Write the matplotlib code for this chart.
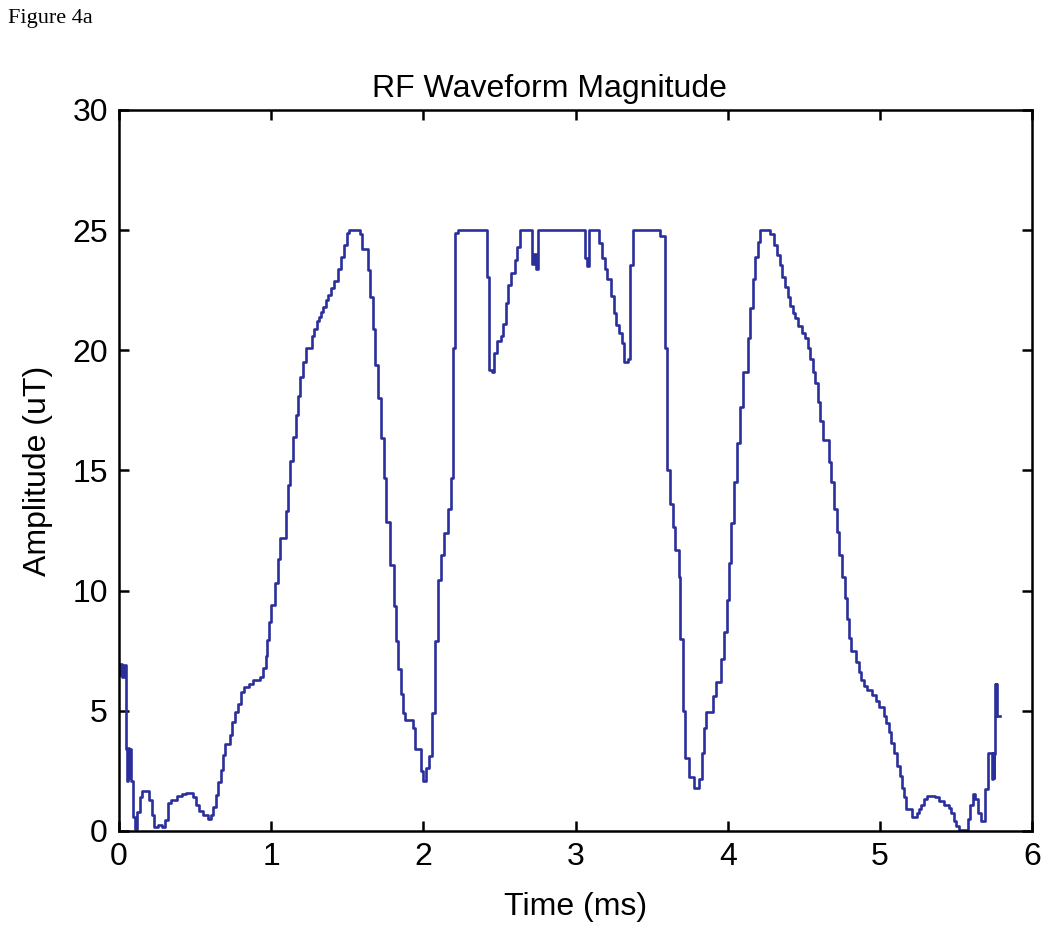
import numpy as np
import matplotlib
matplotlib.use("Agg")
import matplotlib.pyplot as plt

# step waveform: time (ms) where each level starts, level (uT)
time_ms = [
    0.000, 0.010, 0.020, 0.030, 0.046, 0.052, 0.058, 0.064, 0.070, 0.078,
    0.092, 0.105, 0.118, 0.138, 0.151, 0.197, 0.217, 0.230, 0.257, 0.283,
    0.303, 0.322, 0.342, 0.382, 0.414, 0.441, 0.487, 0.507, 0.526, 0.553,
    0.586, 0.605, 0.618, 0.638, 0.651, 0.671, 0.684, 0.697, 0.730, 0.743,
    0.763, 0.783, 0.803, 0.822, 0.855, 0.882, 0.928, 0.947, 0.967, 0.974,
    0.987, 1.000, 1.026, 1.046, 1.059, 1.099, 1.112, 1.125, 1.145, 1.164,
    1.178, 1.191, 1.211, 1.230, 1.270, 1.283, 1.303, 1.316, 1.329, 1.342,
    1.362, 1.375, 1.395, 1.414, 1.441, 1.461, 1.480, 1.500, 1.513, 1.586,
    1.599, 1.638, 1.651, 1.671, 1.684, 1.704, 1.724, 1.743, 1.757, 1.783,
    1.809, 1.822, 1.836, 1.855, 1.868, 1.882, 1.934, 1.947, 1.987, 2.000,
    2.020, 2.039, 2.059, 2.079, 2.099, 2.118, 2.138, 2.164, 2.184, 2.197,
    2.211, 2.230, 2.421, 2.434, 2.454, 2.467, 2.487, 2.513, 2.526, 2.546,
    2.559, 2.579, 2.599, 2.618, 2.632, 2.717, 2.730, 2.740, 2.750, 3.059,
    3.072, 3.086, 3.151, 3.171, 3.191, 3.204, 3.230, 3.250, 3.263, 3.283,
    3.303, 3.316, 3.342, 3.355, 3.375, 3.553, 3.586, 3.599, 3.618, 3.638,
    3.651, 3.678, 3.688, 3.704, 3.717, 3.743, 3.776, 3.809, 3.829, 3.842,
    3.855, 3.901, 3.921, 3.954, 3.974, 3.993, 4.007, 4.020, 4.039, 4.059,
    4.079, 4.099, 4.132, 4.145, 4.164, 4.178, 4.197, 4.211, 4.276, 4.303,
    4.322, 4.342, 4.355, 4.375, 4.395, 4.408, 4.428, 4.441, 4.461, 4.487,
    4.507, 4.526, 4.539, 4.559, 4.572, 4.592, 4.605, 4.625, 4.664, 4.678,
    4.697, 4.717, 4.730, 4.750, 4.770, 4.783, 4.796, 4.809, 4.842, 4.862,
    4.875, 4.895, 4.914, 4.947, 4.974, 4.993, 5.026, 5.039, 5.059, 5.072,
    5.092, 5.112, 5.132, 5.145, 5.158, 5.171, 5.211, 5.243, 5.257, 5.270,
    5.289, 5.309, 5.362, 5.388, 5.421, 5.454, 5.467, 5.487, 5.500, 5.520,
    5.579, 5.592, 5.612, 5.625, 5.645, 5.664, 5.691, 5.711, 5.737, 5.742,
    5.747, 5.752, 5.757, 5.761, 5.765, 5.768, 5.790,
]
amplitude_uT = [
    6.5, 6.95, 6.4, 6.9, 3.4, 2.1, 3.45, 2.2, 3.4, 2.1,
    0.6, 0.1, 0.8, 1.4, 1.65, 1.3, 0.65, 0.15, 0.25, 0.15,
    0.45, 1.15, 1.3, 1.45, 1.55, 1.6, 1.4, 1.1, 0.85, 0.65,
    0.5, 0.65, 1.0, 1.5, 2.05, 2.55, 3.15, 3.6, 4.0, 4.55,
    4.95, 5.3, 5.8, 6.0, 6.1, 6.3, 6.4, 6.8, 7.3, 7.95,
    8.7, 9.4, 10.3, 11.3, 12.2, 13.3, 14.4, 15.4, 16.4, 17.3,
    18.1, 18.9, 19.5, 20.1, 20.6, 20.9, 21.2, 21.4, 21.6, 21.8,
    22.1, 22.3, 22.6, 22.9, 23.4, 23.9, 24.4, 24.9, 25.0, 24.85,
    24.2, 23.35, 22.2, 20.9, 19.4, 18.0, 16.35, 14.7, 12.85, 11.05,
    9.35, 7.9, 6.75, 5.7, 4.9, 4.6, 4.3, 3.4, 2.5, 2.1,
    2.6, 3.1, 4.9, 7.9, 10.45, 11.5, 12.4, 13.4, 14.7, 20.1,
    24.9, 25.0, 23.05, 19.2, 19.1, 19.9, 20.4, 20.6, 21.1, 21.95,
    22.7, 23.2, 23.75, 24.3, 25.0, 23.6, 24.0, 23.4, 25.0, 23.85,
    23.5, 25.0, 24.45, 23.85, 23.4, 22.95, 22.25, 21.55, 21.05, 20.7,
    20.3, 19.5, 19.65, 23.55, 25.0, 24.75, 20.1, 15.0, 13.6, 12.65,
    11.7, 10.55, 8.0, 5.0, 3.05, 2.25, 1.8, 2.15, 3.25, 4.3,
    4.95, 5.6, 6.2, 7.15, 8.3, 9.6, 11.15, 12.8, 14.5, 16.15,
    17.65, 19.1, 20.5, 21.75, 22.95, 23.9, 24.5, 25.0, 24.85, 24.4,
    23.95, 23.55, 23.05, 22.65, 22.2, 21.85, 21.55, 21.35, 21.0, 20.7,
    20.5, 20.1, 19.65, 19.1, 18.65, 17.85, 17.05, 16.25, 15.35, 14.5,
    13.4, 12.45, 11.5, 10.55, 9.7, 8.8, 8.05, 7.5, 7.05, 6.6,
    6.3, 6.05, 5.85, 5.65, 5.4, 5.15, 4.8, 4.5, 4.1, 3.65,
    3.25, 2.7, 2.3, 1.8, 1.4, 0.9, 0.6, 0.75, 0.9, 1.1,
    1.35, 1.45, 1.4, 1.25, 1.1, 0.95, 0.75, 0.4, 0.2, 0.05,
    0.5, 1.1, 1.55, 1.35, 0.75, 0.4, 1.75, 3.25, 2.15, 3.25,
    2.2, 3.2, 6.1, 4.8, 6.1, 4.8, 4.8,
]

x_ticks = [0, 1, 2, 3, 4, 5, 6]
y_ticks = [0, 5, 10, 15, 20, 25, 30]

plt.rcParams['font.family'] = ['Liberation Sans', 'DejaVu Sans']

fig = plt.figure(figsize=(10.5, 9.36), dpi=100, facecolor='white')
ax = fig.add_axes([0.1133, 0.1122, 0.8697, 0.7703])

ax.plot(time_ms, amplitude_uT, drawstyle='steps-post', color='#2a2f9c', lw=1.9)

ax.set_xlim(0, 6)
ax.set_ylim(0, 30)
ax.set_xticks(x_ticks)
ax.set_yticks(y_ticks)
ax.tick_params(direction='in', length=7, width=1.8, top=True, right=True,
               labelsize=23, pad=8)
for s in ax.spines.values():
    s.set_linewidth(1.8)

# title sits a little left of the axes centre in the original
ax.set_title('RF Waveform Magnitude', fontsize=23, pad=9, x=0.471)
ax.set_xlabel('Time (ms)', fontsize=23, labelpad=14)
ax.set_ylabel('Amplitude (uT)', fontsize=23, labelpad=14)

fig.text(0.008, 0.99, 'Figure 4a', family='Liberation Serif', fontsize=16,
         va='top', ha='left')

fig.savefig('out.png', dpi=100)
